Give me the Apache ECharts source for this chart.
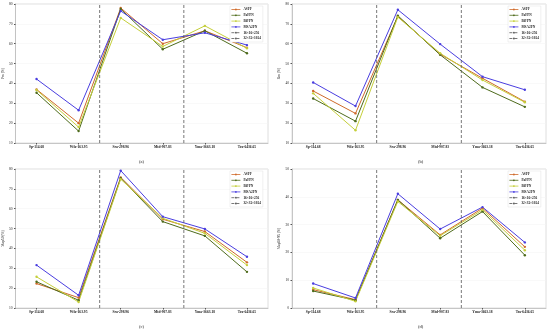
<!DOCTYPE html>
<html><head><meta charset="utf-8">
<script src="https://cdn.jsdelivr.net/npm/echarts@6/dist/echarts.min.js"></script>
<style>html,body{margin:0;padding:0;background:#fff}#c{width:550px;height:330px}</style>
</head><body><div id="c"></div>
<script>
const categories = ["Sp-114.68","Wfa-163.95","Sra-298.96","Mtd-907.83","Yma-3663.18","Tra-6436.65"];
const seriesNames = ["ASFF","PaFPN","BiFPN","MSA2FN"];
const lineNames = ["16×16×256","32×32×1024"];
const boundaries = [2, 4];
const panelLabels = ["(a)","(b)","(c)","(d)"];
const yNames = ["Pm (%)","Rm (%)","Map50 (%)","Map50-95 (%)"];
const yMins = [10,10,10,0];
const yMaxs = [80,80,80,50];

// panel (a) Pm
const a_ASFF   = [37.0,20.0,78.0,60.0,66.5,58.0];
const a_PaFPN  = [35.3,16.0,77.5,57.2,66.5,55.2];
const a_BiFPN  = [36.7,18.0,73.0,58.6,69.0,57.7];
const a_MSA2FN = [42.2,26.5,76.5,62.0,65.5,59.3];
// panel (b) Rm
const b_ASFF   = [36.2,24.9,73.8,54.7,42.6,30.8];
const b_PaFPN  = [32.4,21.0,74.1,54.4,38.0,28.2];
const b_BiFPN  = [35.0,16.4,73.4,55.2,41.7,30.5];
const b_MSA2FN = [40.5,28.6,77.1,59.8,43.4,36.8];
// panel (c) mAP50
const c_ASFF   = [22.3,15.2,75.8,54.7,48.5,33.0];
const c_PaFPN  = [23.2,13.9,75.4,53.5,46.3,28.2];
const c_BiFPN  = [25.7,13.0,74.9,55.2,47.6,31.6];
const c_MSA2FN = [31.6,16.4,79.2,56.0,49.8,35.8];
// panel (d) mAP50-95
const d_ASFF   = [6.6,3.0,38.9,26.3,35.9,22.0];
const d_PaFPN  = [6.1,2.8,38.9,25.1,34.7,19.0];
const d_BiFPN  = [7.2,2.4,38.3,26.0,35.3,20.8];
const d_MSA2FN = [8.8,3.6,41.1,28.4,36.3,23.6];

const panels = [
  [a_ASFF,a_PaFPN,a_BiFPN,a_MSA2FN],
  [b_ASFF,b_PaFPN,b_BiFPN,b_MSA2FN],
  [c_ASFF,c_PaFPN,c_BiFPN,c_MSA2FN],
  [d_ASFF,d_PaFPN,d_BiFPN,d_MSA2FN]
];
const colors = ["#cf6a2a","#4e6b1c","#c5cf3a","#4a3ee0"];
const grids = [
  {left:12, top:4, width:256, height:139},
  {left:292, top:4, width:254, height:139},
  {left:12, top:169, width:256, height:139},
  {left:292, top:169, width:254, height:139}
];
const font = "Liberation Serif";
const option = {
  animation:false,
  backgroundColor:"#fff",
  textStyle:{fontFamily:font},
  grid:[], xAxis:[], yAxis:[], series:[], legend:[], title:[]
};
grids.forEach((g,i)=>{
  option.grid.push(Object.assign({containLabel:false,show:true,borderColor:"#d6d6d6",borderWidth:0.8},g));
  option.xAxis.push({type:"category",gridIndex:i,data:categories,boundaryGap:true,
    axisLine:{lineStyle:{color:"#bbb",width:0.8}},axisTick:{show:true,alignWithLabel:true,length:1.5,lineStyle:{color:"#555"}},
    axisLabel:{fontSize:3.6,fontWeight:"bold",color:"#222",margin:2.5,fontFamily:font},splitLine:{show:false}});
  option.xAxis.push({type:"value",gridIndex:i,min:0,max:categories.length,show:false});
  option.yAxis.push({type:"value",gridIndex:i,min:yMins[i],max:yMaxs[i],interval:10,
    name:yNames[i],nameLocation:"middle",nameGap:8,nameRotate:90,
    nameTextStyle:{fontSize:3.6,color:"#222",fontFamily:font},
    axisLine:{show:true,lineStyle:{color:"#bbb",width:0.8}},axisTick:{show:true,length:1.5,lineStyle:{color:"#555"}},
    axisLabel:{fontSize:3.6,color:"#222",margin:3,fontFamily:font},
    splitLine:{show:true,lineStyle:{color:"#f3f3f3",width:0.5}}});
  panels[i].forEach((vals,k)=>{
    option.series.push({type:"line",name:seriesNames[k],xAxisIndex:2*i,yAxisIndex:i,data:vals,
      symbol:"circle",symbolSize:2.4,color:colors[k],lineStyle:{width:1,color:colors[k]},itemStyle:{color:colors[k]}});
  });
  boundaries.forEach((b,k)=>{
    option.series.push({type:"line",name:lineNames[k],xAxisIndex:2*i+1,yAxisIndex:i,
      data:[[b,yMins[i]],[b,yMaxs[i]]],symbol:"none",color:"#555",
      lineStyle:{type:[3,2],width:0.8,color:"#555"}});
  });
  option.legend.push({left:g.left+g.width-38,top:g.top+2,orient:"vertical",
    data:seriesNames.concat(lineNames),itemWidth:9,itemHeight:2.2,itemGap:2.8,
    padding:[2,2,2,1],borderColor:"#e2e2e2",borderWidth:0.5,backgroundColor:"#fff",
    itemStyle:{borderWidth:0},lineStyle:{width:0.8},
    textStyle:{fontSize:3.4,fontWeight:"bold",color:"#222",fontFamily:font,padding:[0,0,0,-2]}});
  option.title.push({text:panelLabels[i],left:g.left+g.width/2-6,top:g.top+g.height+11,
    textStyle:{fontSize:4.5,fontWeight:"normal",color:"#222",fontFamily:font}});
});
const chart = echarts.init(document.getElementById("c"),null,{renderer:"canvas"});
chart.setOption(option);
</script></body></html>
